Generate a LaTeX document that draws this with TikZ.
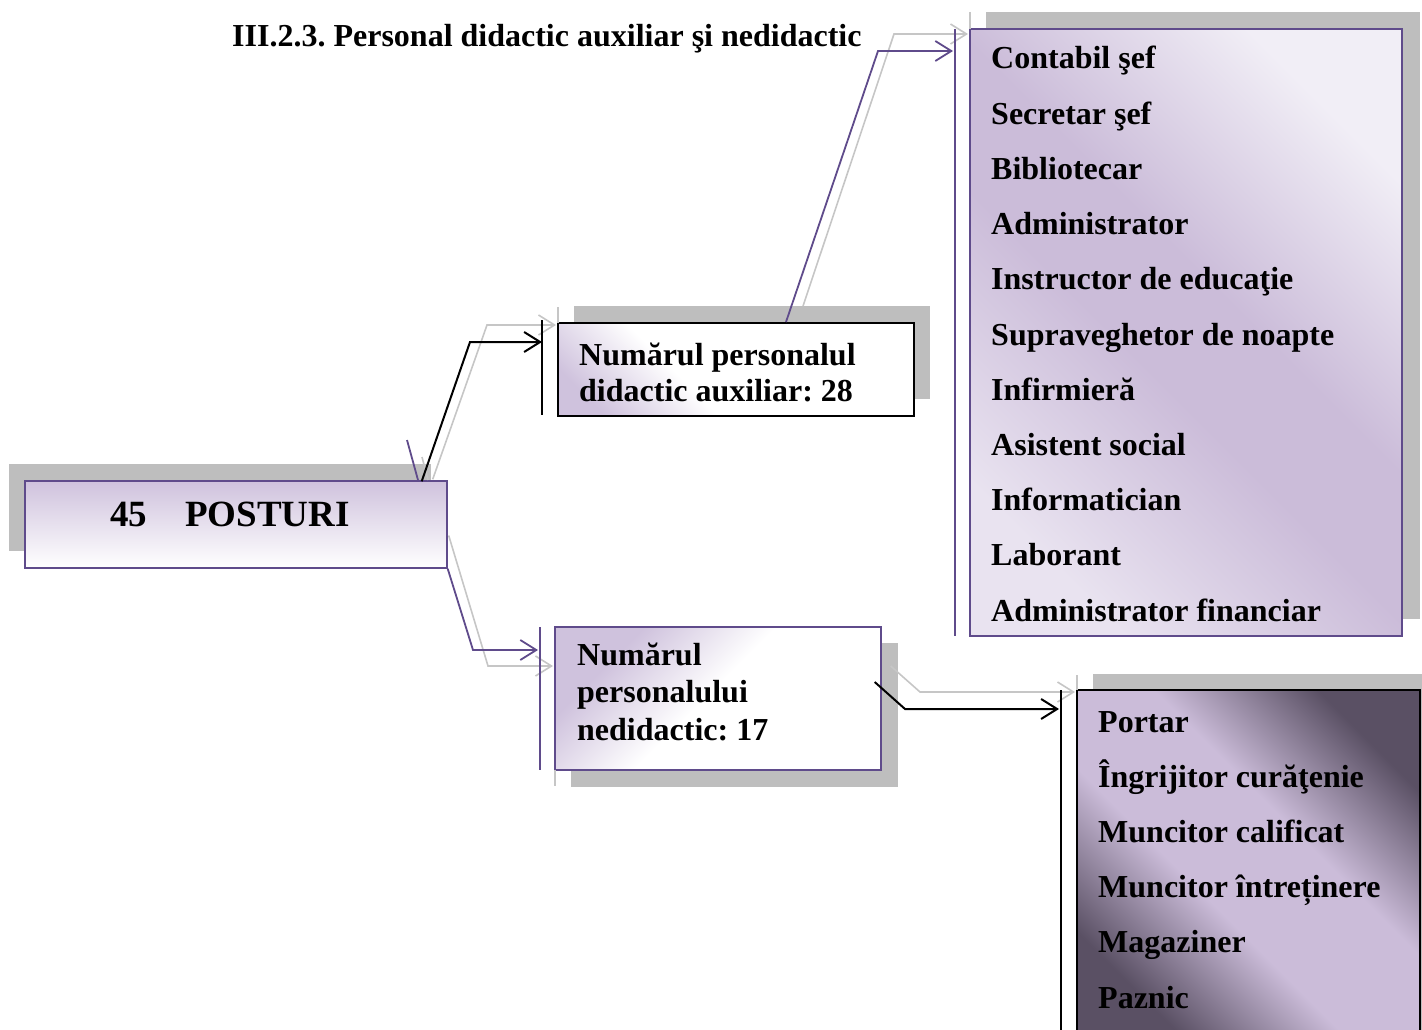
\documentclass[tikz,border=0pt]{standalone}
\usepackage{fontspec}
\setmainfont{Liberation Serif}
\usetikzlibrary{arrows.meta}
\frenchspacing
\definecolor{lav}{HTML}{CFC2DD}
\definecolor{lavb}{HTML}{CBBCD9}
\definecolor{purp}{HTML}{5F4B8B}
\definecolor{shad}{HTML}{BEBEBE}
\definecolor{gline}{HTML}{C6C6C6}
\definecolor{dk}{HTML}{5A5064}
\definecolor{pale}{HTML}{F1EEF6}
\definecolor{palel}{HTML}{E9E3F0}
\pgfdeclarehorizontalshading{shTwo}{100bp}{color(0bp)=(lav); color(22bp)=(lav); color(40bp)=(white); color(75bp)=(white); color(100bp)=(white)}
\pgfdeclarehorizontalshading{shThree}{100bp}{color(0bp)=(lav); color(28bp)=(lav); color(48bp)=(white); color(75bp)=(white); color(100bp)=(white)}
\pgfdeclarehorizontalshading{shFour}{100bp}{color(0bp)=(palel); color(25bp)=(palel); color(45bp)=(lavb); color(55bp)=(lavb); color(75bp)=(pale); color(100bp)=(pale)}
\pgfdeclarehorizontalshading{shFive}{100bp}{color(0bp)=(dk); color(25bp)=(dk); color(42bp)=(lavb); color(58bp)=(lavb); color(75bp)=(dk); color(100bp)=(dk)}
\begin{document}
\begin{tikzpicture}[x=1pt,y=-1pt,
  txt/.style={anchor=base west, inner sep=0pt, font=\fontsize{32}{38}\selectfont\bfseries},
  boxp/.style={draw=purp, line width=1.4pt, inner sep=0pt},
  boxk/.style={draw=black, line width=2pt, inner sep=0pt},
  blk/.style={draw=black, line width=2pt},
  prp/.style={draw=purp, line width=1.8pt},
  gry/.style={draw=gline, line width=1.6pt},
  tip/.style={-{Straight Barb[length=16pt,width=20pt]}}
]
\useasboundingbox (0,0) rectangle (1422,1030);
% shadows
\fill[shad] (9,464) rectangle (431,551);
\fill[shad] (574,306) rectangle (930,399);
\fill[shad] (571,643) rectangle (898,787);
\fill[shad] (986,12) rectangle (1420,619);
\fill[shad] (1093,674) rectangle (1422,1031);
% boxes
\node[boxp, top color=lav, bottom color=white, minimum width=422pt, minimum height=87pt] (b1) at (236,524.5) {};
\node[boxk, shading=shTwo, shading angle=45, minimum width=356pt, minimum height=93pt] (b2) at (736,369.5) {};
\node[boxp, shading=shThree, shading angle=-45, minimum width=326pt, minimum height=143pt] (b3) at (718,698.5) {};
\node[boxp, shading=shFour, shading angle=45, minimum width=432pt, minimum height=607pt] (b4) at (1186,332.5) {};
\node[boxk, shading=shFive, shading angle=45, minimum width=343pt, minimum height=344pt] (b5) at (1248.5,862) {};
% targets
\coordinate (t2) at (542,342);
\coordinate (t3) at (538,650);
\coordinate (t4) at (953,51);
\coordinate (t5) at (1059,709);
\coordinate (g2) at (556,325);
\coordinate (g3) at (553,666);
\coordinate (g4) at (968,34);
\coordinate (g5) at (1075,692);
% grey shadow connectors
\draw[gry,tip] ([shift={(-15,-1)}]b1.north east) -- (487,325) -- (g2);
\draw[gry,tip] ([shift={(1,11)}]b1.east) -- (488,666) -- (g3);
\draw[gry,tip] ([shift={(67,-16)}]b2.north) -- (894,34) -- (g4);
\draw[gry,tip] ([shift={(9,-32.5)}]b3.east) -- (920,692) -- (g5);
\draw[gry] (558,307) -- (558,323);
\draw[gry] (555,770) -- (555,786);
\draw[gry] (970,12) -- (970,29);
\draw[gry] (1077,675) -- (1077,690);
\draw[gry] (422,457) -- (428,480);
% brackets
\draw[blk] (542,320) -- (542,415);
\draw[prp] (540,627) -- (540,770);
\draw[prp] (955,29) -- (955,636);
\draw[blk] (1061,690) -- (1061,1031);
\draw[prp] (407,440) -- (418,480);
% connectors
\draw[blk,tip] ([shift={(-26,1)}]b1.north east) -- (470,342) -- (t2);
\draw[prp,tip] (b1.south east) -- (473,650) -- (t3);
\draw[prp,tip] ([shift={(50,0)}]b2.north) -- (878,51) -- (t4);
\draw[blk,tip] ([shift={(-7,-16.5)}]b3.east) -- (905,709) -- (t5);
% texts
\node[txt] (title) at (232,47) {III.2.3. Personal didactic auxiliar şi nedidactic};
\node[txt, font=\fontsize{37}{44}\selectfont\bfseries] (t45) at (110,526) {45\hspace{38pt}POSTURI};
\node[txt] (b2l1) at (579,365) {Numărul personalul};
\node[txt] (b2l2) at (579,401) {didactic auxiliar: 28};
\node[txt] (b3l1) at (577,665) {Numărul};
\node[txt] (b3l2) at (577,702) {personalului};
\node[txt] (b3l3) at (577,740) {nedidactic: 17};
\foreach \t [count=\i from 0] in {Contabil şef, Secretar şef, Bibliotecar, Administrator, Instructor de educaţie, Supraveghetor de noapte, Infirmieră, Asistent social, Informatician, Laborant, Administrator financiar}
  \node[txt] (a\i) at (991,69+55.2*\i) {\t};
\foreach \t [count=\i from 0] in {Portar, Îngrijitor curăţenie, Muncitor calificat, Muncitor întreținere, Magaziner, Paznic}
  \node[txt] (n\i) at (1098,732+55.2*\i) {\t};
\end{tikzpicture}
\end{document}
